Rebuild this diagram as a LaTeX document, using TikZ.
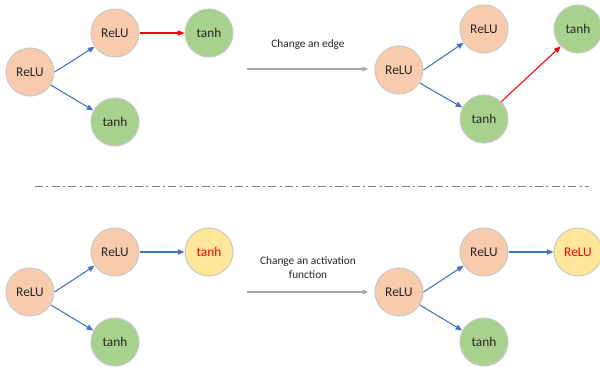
\documentclass[tikz,border=0pt]{standalone}
\usepackage{fontspec}
\setmainfont{Carlito}
\usepackage{xcolor}
\usetikzlibrary{arrows.meta}
\usetikzlibrary{positioning}
\definecolor{peach}{HTML}{F8CBAD}
\definecolor{leaf}{HTML}{A9D18E}
\definecolor{sand}{HTML}{FFE699}
\definecolor{rim}{HTML}{C9C9C9}
\definecolor{linkblue}{HTML}{4472C4}
\definecolor{linkgray}{HTML}{A6A6A6}
\definecolor{sepgray}{HTML}{7F7F7F}
\definecolor{ink}{HTML}{262626}
\tikzset{
    relunode/.style = {circle, draw=rim, fill=peach, text=ink, minimum size=36pt, inner sep=0pt, font=\fontsize{10}{12}\selectfont},
    tanhnode/.style = {circle, draw=rim, fill=leaf, text=ink, minimum size=36pt, inner sep=0pt, font=\fontsize{10}{12}\selectfont},
    newnode/.style = {circle, draw=rim, fill=sand, text=red, minimum size=36pt, inner sep=0pt, font=\fontsize{10}{12}\selectfont},
}

\begin{document}
\begin{tikzpicture}[
    x=0.75pt, y=-0.75pt,
    line width=0.8pt
]
\tikzset{
    edgeb/.style = {-{Triangle[length=5pt,width=4pt]}, linkblue},
    edger/.style = {-{Triangle[length=5pt,width=4pt]}, red},
    edgeg/.style = {-{Triangle[length=4pt,width=3.5pt]}, linkgray},
    caption/.style = {font=\fontsize{8.5}{10.5}\selectfont, text=ink, align=center}
}
\useasboundingbox (0,0) rectangle (600,367);
% first row: change an edge
\node[relunode] at (30,72) (l1root) {ReLU};
\node[relunode] at (115,33) (l1up) {ReLU};
\node[tanhnode] at (209,33) (l1right) {tanh};
\node[tanhnode] at (115,122) (l1down) {tanh};
\draw[edgeb] (l1root.0) -- (l1up.214);
\draw[edgeb] (l1root.-32) -- (l1down.152);
\draw[edger] (l1up) -- (l1right);

\coordinate (s1) at (247,69);
\coordinate (e1) at (368,69);
\draw[edgeg] (s1) -- (e1);
\node[caption] at (308,45) (c1) {Change an edge};

\node[relunode] at (399,70) (r1root) {ReLU};
\node[relunode] at (484,29) (r1up) {ReLU};
\node[tanhnode] at (484,119) (r1down) {tanh};
\node[tanhnode] at (578,29) (r1right) {tanh};
\draw[edgeb] (r1root.0) -- (r1up.214);
\draw[edgeb] (r1root.-32) -- (r1down.152);
\draw[edger] (r1down.45) -- (r1right.225);

% separator
\coordinate (sepl) at (35,186);
\coordinate (sepr) at (589,186);
\draw[sepgray, line width=0.6pt, dash pattern=on 6pt off 2.5pt on 1.5pt off 2.5pt] (sepl) -- (sepr);

% second row: change an activation function
\node[relunode] at (30,292) (l2root) {ReLU};
\node[relunode] at (115,252) (l2up) {ReLU};
\node[newnode] at (209,252) (l2right) {tanh};
\node[tanhnode] at (115,342) (l2down) {tanh};
\draw[edgeb] (l2root.0) -- (l2up.214);
\draw[edgeb] (l2root.-32) -- (l2down.152);
\draw[edgeb] (l2up) -- (l2right);

\coordinate (s2) at (247,292);
\coordinate (e2) at (368,292);
\draw[edgeg] (s2) -- (e2);
\node[caption] at (308,268) (c2) {Change an activation\\function};

\node[relunode] at (399,292) (r2root) {ReLU};
\node[relunode] at (484,252) (r2up) {ReLU};
\node[tanhnode] at (484,342) (r2down) {tanh};
\node[newnode] at (578,252) (r2right) {ReLU};
\draw[edgeb] (r2root.0) -- (r2up.214);
\draw[edgeb] (r2root.-32) -- (r2down.152);
\draw[edgeb] (r2up) -- (r2right);
\end{tikzpicture}
\end{document}
